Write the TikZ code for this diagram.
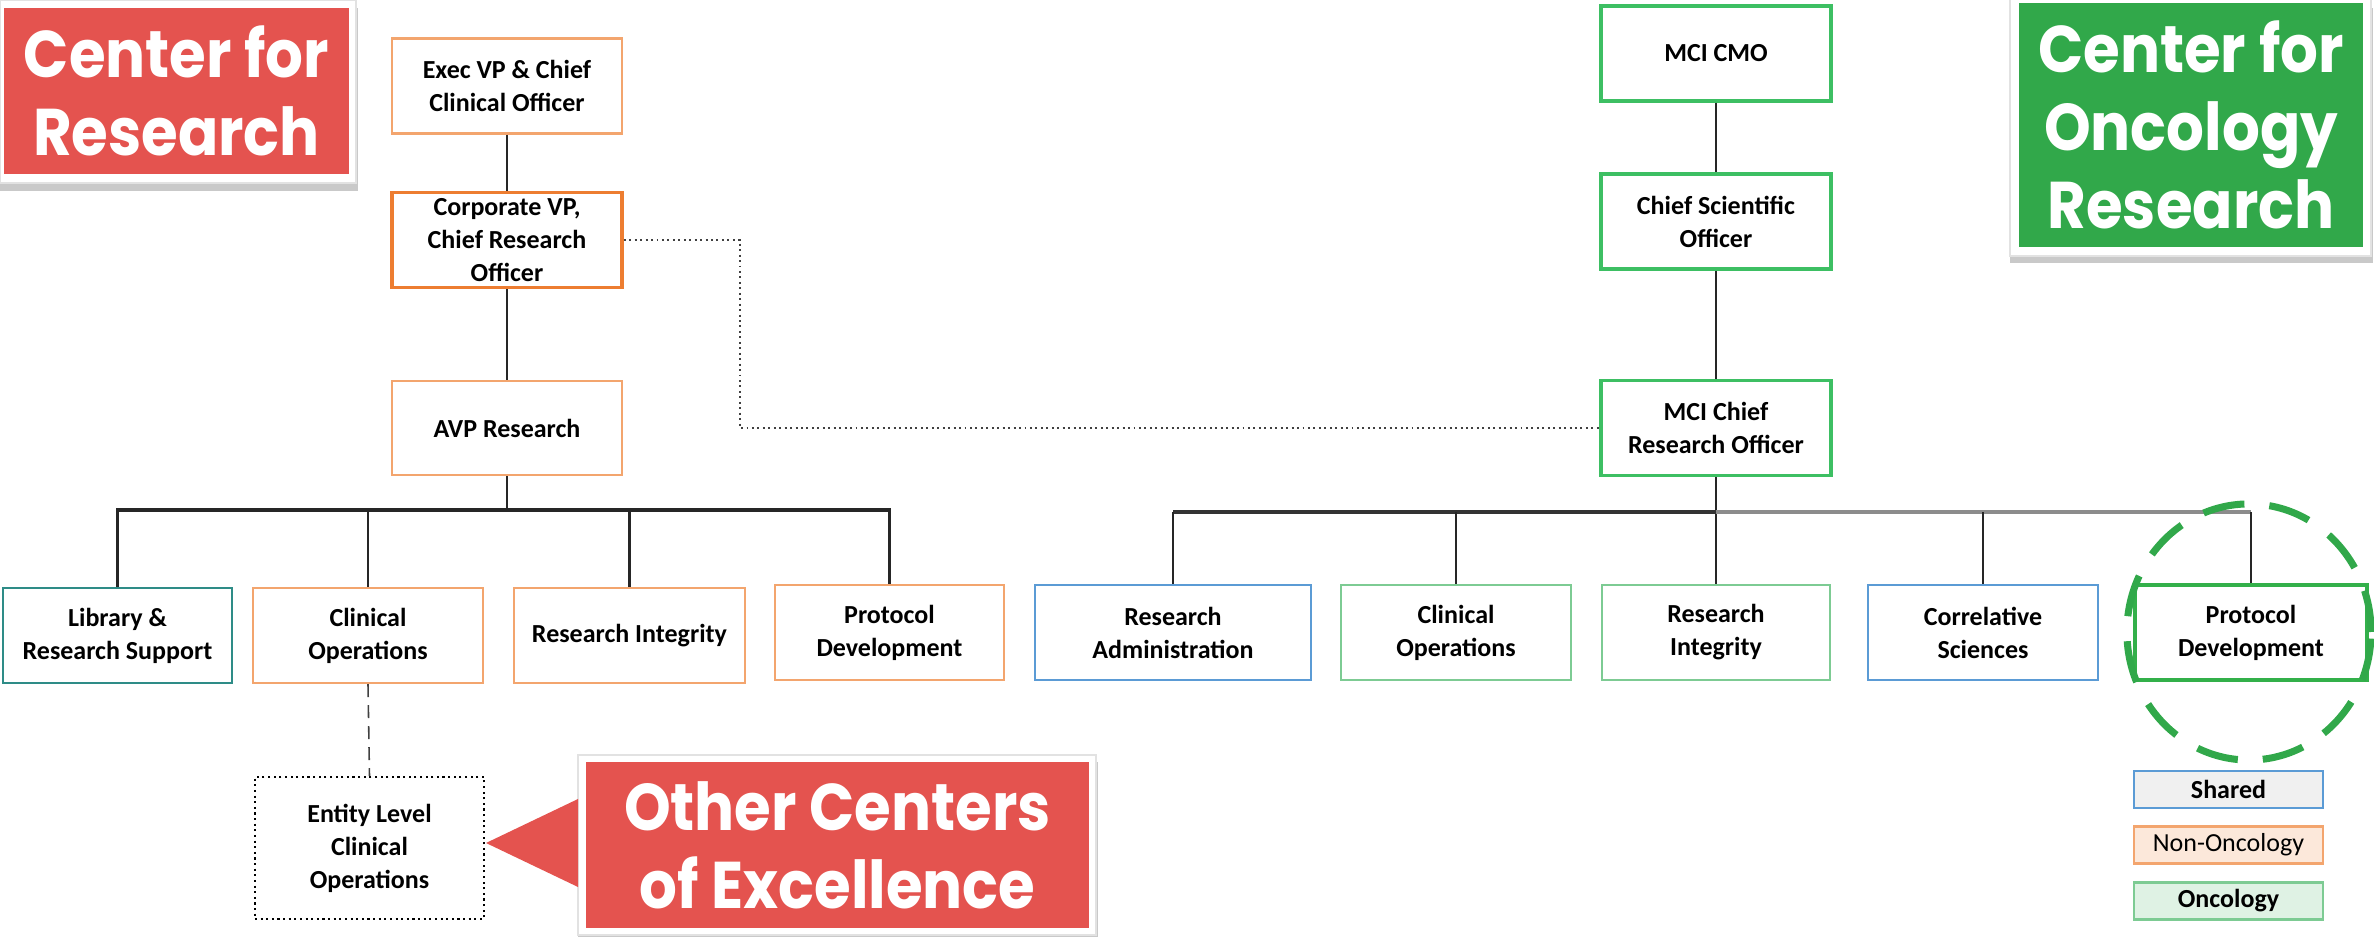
\documentclass[tikz,border=0pt]{standalone}
\usepackage{fontspec}
\setmainfont{Carlito}
\newfontfamily\headfont{Poppins}[FakeStretch=0.9]
\usetikzlibrary{calc}

\definecolor{redC}{HTML}{E4534F}
\definecolor{greenC}{HTML}{31A84A}
\definecolor{orL}{HTML}{F3A56E}
\definecolor{orS}{HTML}{ED7D31}
\definecolor{tealC}{HTML}{2E8C87}
\definecolor{blueC}{HTML}{5B9BD5}
\definecolor{grL}{HTML}{7DCB93}
\definecolor{grS}{HTML}{3DBF63}
\definecolor{grP}{HTML}{33B04A}
\definecolor{shadowC}{HTML}{C9C9C9}
\definecolor{frameC}{HTML}{E2E2E2}

\newcommand\boxfont{\bfseries\fontsize{0.26cm}{0.33cm}\selectfont}
\newcommand\titlefont{\headfont\bfseries\fontsize{0.66cm}{0.78cm}\selectfont}

\tikzset{
  box/.style={draw, fill=white, line width=0.6pt, align=center, inner sep=0pt,
              font=\boxfont, minimum width=2.30cm, minimum height=0.95cm},
  titlebox/.style={fill=#1, text=white, align=center, inner sep=0pt, font=\titlefont},
  conn/.style={draw=black!85, line width=0.8pt},
  connthin/.style={draw=black!85, line width=0.45pt},
  legendbox/.style={draw, line width=0.6pt, align=center, inner sep=0pt,
              font=\boxfont, minimum width=1.89cm, minimum height=0.37cm},
}

\begin{document}
\begin{tikzpicture}[x=0.01cm,y=-0.01cm]
\useasboundingbox (0,0) rectangle (2374,937);

% ---------- title panels with frame and shadow ----------
\fill[shadowC] (0,8) rectangle (358,191);
\fill[white, draw=frameC, line width=0.3pt] (0,0) rectangle (356,183);
\node[titlebox=redC, minimum width=3.45cm, minimum height=1.66cm] (crTitle) at (176.5,91)
  {Center for\\Research};

\fill[shadowC] (2010,8) rectangle (2373,263);
\fill[white, draw=frameC, line width=0.3pt] (2010,-2) rectangle (2371,256);
\node[titlebox=greenC, minimum width=3.44cm, minimum height=2.44cm] (corTitle) at (2191,125)
  {Center for\\Oncology\\Research};

\fill[shadowC] (578,762) rectangle (1098,937);
\fill[white, draw=frameC, line width=0.3pt] (578,755) rectangle (1096,935);
\node[titlebox=redC, minimum width=5.03cm, minimum height=1.66cm] (oceTitle) at (837.5,845)
  {Other Centers\\of Excellence};
\fill[redC] (486,843) -- (578,799) -- (578,887) -- cycle;

% ---------- left hierarchy ----------
\node[box, draw=orL] (exec) at (507,86) {Exec VP \& Chief\\Clinical Officer};
\node[box, draw=orS, line width=1pt] (corp) at (507,240) {Corporate VP,\\Chief Research\\Officer};
\node[box, draw=orL, minimum height=0.94cm] (avp) at (507,428) {AVP Research};

\node[box, draw=tealC, minimum width=2.29cm] (lib)  at (117.5,635.5) {Library \&\\Research Support};
\node[box, draw=orL,  minimum width=2.30cm] (cops) at (368,635.5)   {Clinical\\Operations};
\node[box, draw=orL,  minimum width=2.31cm] (rint) at (629.5,635.5) {Research Integrity};
\node[box, draw=orL,  minimum width=2.29cm] (pdev) at (889.5,632.5) {Protocol\\Development};

\node[box, draw=black, densely dotted, line width=0.5pt, minimum width=2.29cm, minimum height=1.42cm]
  (entity) at (369.5,848) {Entity Level\\Clinical\\Operations};

% ---------- right hierarchy ----------
\node[box, draw=grS, line width=0.9pt] (cmo)  at (1716,53.5)  {MCI CMO};
\node[box, draw=grS, line width=0.9pt] (cso)  at (1716,221.5) {Chief Scientific\\Officer};
\node[box, draw=grS, line width=0.9pt] (mcro) at (1716,428)   {MCI Chief\\Research Officer};

\node[box, draw=blueC, minimum width=2.76cm] (radm)  at (1173,632.5) {Research\\Administration};
\node[box, draw=grL,   minimum width=2.29cm] (cops2) at (1456,632.5) {Clinical\\Operations};
\node[box, draw=grL,   minimum width=2.28cm] (rint2) at (1716,632.5) {Research\\Integrity};
\node[box, draw=blueC, minimum width=2.29cm] (corr)  at (1983,632.5) {Correlative\\Sciences};
\node[box, draw=grP, line width=0.9pt, minimum width=2.32cm] (pdev2) at (2251,632.5) {Protocol\\Development};

% ---------- legend ----------
\node[legendbox, draw=blueC, fill=black!6]    (lgShared) at (2228.5,789.5) {Shared};
\node[legendbox, draw=orL, fill=orS!18, font=\mdseries\fontsize{0.26cm}{0.33cm}\selectfont]
  (lgNon) at (2228.5,845) {Non-Oncology};
\node[legendbox, draw=grL, fill=grL!25]       (lgOnc) at (2228.5,901) {Oncology};

% ---------- connectors, left ----------
\draw[conn] (exec) -- (corp);
\draw[conn] (corp) -- (avp);
\coordinate (lbar) at (507,510);
\draw[conn] (avp.south) -- (lbar);
\draw[conn, line width=1pt] (lib.north) |- (pdev.north |- lbar) -- (pdev.north);
\draw[conn] (cops.north) -- (cops.north |- lbar);
\draw[conn] (rint.north) -- (rint.north |- lbar);
\draw[draw=black!75, line width=0.45pt, dash pattern=on 0.13cm off 0.08cm]
  (cops.south) -- (entity.north);

% dotted link between the two chief research officers
\coordinate (dotturn) at (740,240);
\draw[draw=black!75, line width=0.55pt, densely dotted] (corp.east) -- (dotturn) |- (mcro.west);

% ---------- connectors, right ----------
\draw[connthin] (cmo) -- (cso);
\draw[connthin] (cso) -- (mcro);
\coordinate (rbar) at (1716,512);
\draw[connthin] (mcro.south) -- (rint2.north);
\draw[draw=black!80, line width=1pt] (radm.north |- rbar) -- (rbar);
\draw[draw=black!45, line width=1pt] (rbar) -- (pdev2.north |- rbar);
\draw[connthin] (radm.north) -- (radm.north |- rbar);
\draw[connthin] (cops2.north) -- (cops2.north |- rbar);
\draw[connthin] (corr.north) -- (corr.north |- rbar);
\draw[connthin] (pdev2.north) -- (pdev2.north |- rbar);

% highlight ring round the shared protocol team
\draw[greenC, line width=2pt, dash pattern=on 0.42cm off 0.25cm]
  (2249,632) ellipse [x radius=1.22cm, y radius=1.28cm];

\end{tikzpicture}
\end{document}
